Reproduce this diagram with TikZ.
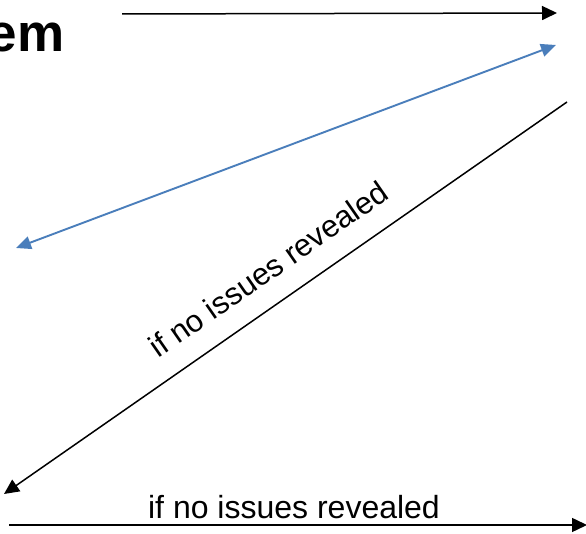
\documentclass[tikz,border=0pt]{standalone}
\usepackage{fontspec}
\setmainfont{Liberation Sans}
\usetikzlibrary{arrows.meta}
\definecolor{officeblue}{RGB}{74,126,187}
\tikzset{
  blk/.style={draw=black, line width=1.5pt, -{Triangle[length=15pt,width=14pt]}},
  blu/.style={draw=officeblue, line width=1.9pt, {Triangle[length=15pt,width=13pt]}-{Triangle[length=15pt,width=13pt]}},
  lbl/.style={inner sep=0pt, font=\fontsize{32}{38}\selectfont},
}
\begin{document}
\begin{tikzpicture}[x=1pt,y=1pt]
\useasboundingbox (0,0) rectangle (586,534);
\clip (0,0) rectangle (586,534);
% title fragment
\node[inner sep=0pt, anchor=base east, font=\fontsize{53}{60}\selectfont\bfseries] (title) at (64.5,482) {em};
% coordinates
\coordinate (t1) at (122,520);
\coordinate (t2) at (557,521);
\coordinate (b1) at (556,489);
\coordinate (b2) at (16,286);
\coordinate (d1) at (567,432);
\coordinate (d2) at (4,40);
\coordinate (h1) at (9,9);
\coordinate (h2) at (587,9);
% arrows
\draw[blk] (t1) -- (t2);
\draw[blu] (b2) -- (b1);
\draw[blk] (d1) -- (d2);
\draw[blk] (h1) -- (h2);
% labels
\node[lbl, rotate=34.8, font=\fontsize{31}{37}\selectfont] (dl) at (268.5,265) {if no issues revealed};
\node[lbl, anchor=base] (hl) at (294,15) {if no issues revealed};
\end{tikzpicture}
\end{document}
